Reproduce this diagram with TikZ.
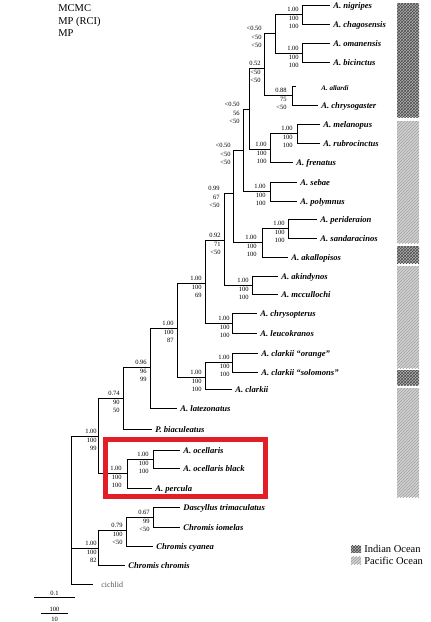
\documentclass[tikz,border=0pt]{standalone}
\usepackage{fontspec}
\setmainfont{Liberation Serif}
\usetikzlibrary{patterns}
\definecolor{boxred}{RGB}{226,30,38}

% three support values round a branch: name, right edge, branch y, MCMC, MP (RCI), MP
\newcommand{\bsup}[6]{%
  \node[supp] (#1a) at (#2,#3-4.5) {#4};
  \node[supp] (#1b) at (#2,#3+4.5) {#5};
  \node[supp] (#1c) at (#2,#3+12.5) {#6};}

\begin{document}
\begin{tikzpicture}[x=1pt,y=-1pt,line width=0.75pt,
  leaf/.style={anchor=west,inner xsep=3pt,inner ysep=0pt,text height=6.2pt,text depth=0pt,
    font=\fontsize{8.6}{10}\selectfont\bfseries\itshape},
  supp/.style={anchor=east,inner sep=0pt,text height=4.5pt,text depth=0pt,
    font=\fontsize{6.5}{7}\selectfont},
  head/.style={anchor=base west,inner sep=0pt,font=\fontsize{10.5}{12}\selectfont},
  indian/.style={preaction={fill=gray!60},pattern=crosshatch,pattern color=black!70},
  pacific/.style={preaction={fill=gray!35},pattern=north east lines,pattern color=gray!75}]

\useasboundingbox (0,0) rectangle (431,622);

\node[head] (hmcmc) at (58,11)   {MCMC};
\node[head] (hrci)  at (58,24)   {MP (RCI)};
\node[head] (hmp)   at (58,36.7) {MP};

% internal nodes
\coordinate (n1)  at (302,14);
\coordinate (n2)  at (302,53);
\coordinate (n3)  at (275,33);
\coordinate (n4)  at (264,68);
\coordinate (n5)  at (292,95);
\coordinate (n6)  at (249,109);
\coordinate (n7)  at (297,133);
\coordinate (n8)  at (270,149);
\coordinate (n9)  at (243,150);
\coordinate (n10) at (270,191);
\coordinate (n11) at (233,193);
\coordinate (n12) at (262,242);
\coordinate (n13) at (288,228);
\coordinate (n14) at (224,240);
\coordinate (n15) at (252,285);
\coordinate (n16) at (205,283);
\coordinate (n17) at (232,323);
\coordinate (n18) at (177,328);
\coordinate (n19) at (205,377);
\coordinate (n20) at (232,362);
\coordinate (n21) at (150,367);
\coordinate (n22) at (123,398);
\coordinate (n23) at (98,436);
\coordinate (n24) at (127,473);
\coordinate (n25) at (153,459);
\coordinate (root) at (71,548);
\coordinate (n27) at (98,548);
\coordinate (n28) at (126,530);
\coordinate (n29) at (153,517);

% tips
\node[leaf] (nig)  at (330,5)   {A. nigripes};
\node[leaf] (chag) at (330,24)  {A. chagosensis};
\node[leaf] (oman) at (330,43)  {A. omanensis};
\node[leaf] (bic)  at (330,62)  {A. bicinctus};
\coordinate (allt) at (296,86);
\node[leaf,font=\fontsize{7}{8}\selectfont\bfseries\itshape] (all) at (318,87) {A. allardi};
\node[leaf] (chry) at (318,105) {A. chrysogaster};
\node[leaf] (mel)  at (320,124) {A. melanopus};
\node[leaf] (rub)  at (320,143) {A. rubrocinctus};
\node[leaf] (fren) at (293,162) {A. frenatus};
\node[leaf] (seb)  at (297,182) {A. sebae};
\node[leaf] (poly) at (297,201) {A. polymnus};
\node[leaf] (peri) at (317,219) {A. perideraion};
\node[leaf] (sand) at (317,238) {A. sandaracinos};
\node[leaf] (akal) at (288,257) {A. akallopisos};
\node[leaf] (akin) at (278,276) {A. akindynos};
\node[leaf] (mccu) at (278,294) {A. mccullochi};
\node[leaf] (chrp) at (257,313) {A. chrysopterus};
\node[leaf] (leuc) at (257,333) {A. leucokranos};
\node[leaf] (clor) at (258,353) {A. clarkii “orange”};
\node[leaf] (clso) at (258,372) {A. clarkii “solomons”};
\node[leaf] (clar) at (232,389) {A. clarkii};
\node[leaf] (late) at (177,408) {A. latezonatus};
\node[leaf] (biac) at (152,429) {P. biaculeatus};
\node[leaf] (ocel) at (180,450) {A. ocellaris};
\node[leaf] (ocbl) at (180,468) {A. ocellaris black};
\node[leaf] (perc) at (152,488) {A. percula};
\node[leaf] (dasc) at (180,507) {Dascyllus trimaculatus};
\node[leaf] (iome) at (180,527) {Chromis iomelas};
\node[leaf] (cyan) at (153,546) {Chromis cyanea};
\node[leaf] (chro) at (125,565) {Chromis chromis};
\node[leaf,inner xsep=8pt,text=gray!70!black,font=\fontsize{8}{9}\selectfont] (cich) at (93,584) {cichlid};

% branches
\draw (root) |- (n23) (root) |- (n27) (root) |- (cich.west);
\draw (n23) |- (n22) (n23) |- (n24);
\draw (n22) |- (n21) (n22) |- (biac.west);
\draw (n21) |- (n18) (n21) |- (late.west);
\draw (n18) |- (n16) (n18) |- (n19);
\draw (n16) |- (n14) (n16) |- (n17);
\draw (n14) |- (n11) (n14) |- (n15);
\draw (n11) |- (n9) (n11) |- (n12);
\draw (n9) |- (n6) (n9) |- (n10);
\draw (n6) |- (n4) (n6) |- (n8);
\draw (n4) |- (n3) (n4) |- (n5);
\draw (n3) |- (n1) (n3) |- (n2);
\draw (n1) |- (nig.west) (n1) |- (chag.west);
\draw (n2) |- (oman.west) (n2) |- (bic.west);
\draw (n5) |- (allt) (n5) |- (chry.west);
\draw (n8) |- (n7) (n8) |- (fren.west);
\draw (n7) |- (mel.west) (n7) |- (rub.west);
\draw (n10) |- (seb.west) (n10) |- (poly.west);
\draw (n12) |- (n13) (n12) |- (akal.west);
\draw (n13) |- (peri.west) (n13) |- (sand.west);
\draw (n15) |- (akin.west) (n15) |- (mccu.west);
\draw (n17) |- (chrp.west) (n17) |- (leuc.west);
\draw (n19) |- (n20) (n19) |- (clar.west);
\draw (n20) |- (clor.west) (n20) |- (clso.west);
\draw (n24) |- (n25) (n24) |- (perc.west);
\draw (n25) |- (ocel.west) (n25) |- (ocbl.west);
\draw (n27) |- (n28) (n27) |- (chro.west);
\draw (n28) |- (n29) (n28) |- (cyan.west);
\draw (n29) |- (dasc.west) (n29) |- (iome.west);

% support values
\bsup{s1}{299}{14}{1.00}{100}{100}
\bsup{s2}{299}{53}{1.00}{100}{100}
\bsup{s3}{262}{33}{<0.50}{<50}{<50}
\bsup{s4}{261}{68}{0.52}{<50}{<50}
\bsup{s5}{287}{95}{0.88}{75}{<50}
\bsup{s6}{240}{109}{<0.50}{56}{<50}
\bsup{s7}{293}{133}{1.00}{100}{100}
\bsup{s8}{267}{149}{1.00}{100}{100}
\bsup{s9}{231}{150}{<0.50}{<50}{<50}
\bsup{s10}{266}{191}{1.00}{100}{100}
\bsup{s11}{220}{193}{0.99}{67}{<50}
\bsup{s12}{257}{242}{1.00}{100}{100}
\bsup{s13}{285}{228}{1.00}{100}{100}
\bsup{s14}{221}{240}{0.92}{71}{<50}
\bsup{s15}{249}{285}{1.00}{100}{100}
\bsup{s16}{202}{283}{1.00}{100}{69}
\bsup{s17}{230}{323}{1.00}{100}{100}
\bsup{s18}{174}{328}{1.00}{100}{87}
\bsup{s19}{202}{377}{1.00}{100}{100}
\bsup{s20}{230}{362}{1.00}{100}{100}
\bsup{s21}{147}{367}{0.96}{96}{99}
\bsup{s22}{120}{398}{0.74}{90}{50}
\bsup{s23}{97}{436}{1.00}{100}{99}
\bsup{s24}{122}{473}{1.00}{100}{100}
\bsup{s25}{149}{459}{1.00}{100}{100}
\bsup{s27}{97}{548}{1.00}{100}{82}
\bsup{s28}{123}{530}{0.79}{100}{<50}
\bsup{s29}{150}{517}{0.67}{99}{<50}

% highlight of the ocellaris clade
\draw[boxred,line width=5pt] (105.8,439.2) rectangle (265.8,496.7);

% ocean bars
\path[indian]  (397,3)   rectangle (419,117);
\path[pacific] (397,121) rectangle (419,243);
\path[indian]  (397,246) rectangle (419,263);
\path[pacific] (397,266) rectangle (419,368);
\path[indian]  (397,370) rectangle (419,385);
\path[pacific] (397,388) rectangle (419,497);

% legend
\path[indian]  (351,545.7) rectangle (361,552.7);
\path[pacific] (351,556.7) rectangle (361,564);
\node[head] (lind) at (364,552.7) {Indian Ocean};
\node[head] (lpac) at (364,564.3) {Pacific Ocean};

% scale bars
\node[supp,anchor=center] (sc1) at (54.5,593) {0.1};
\draw (34,597) -- (75,597);
\node[supp,anchor=center] (sc2) at (54.5,609) {100};
\draw (41,613) -- (68,613);
\node[supp,anchor=center] (sc3) at (54.5,618.8) {10};

\end{tikzpicture}
\end{document}
